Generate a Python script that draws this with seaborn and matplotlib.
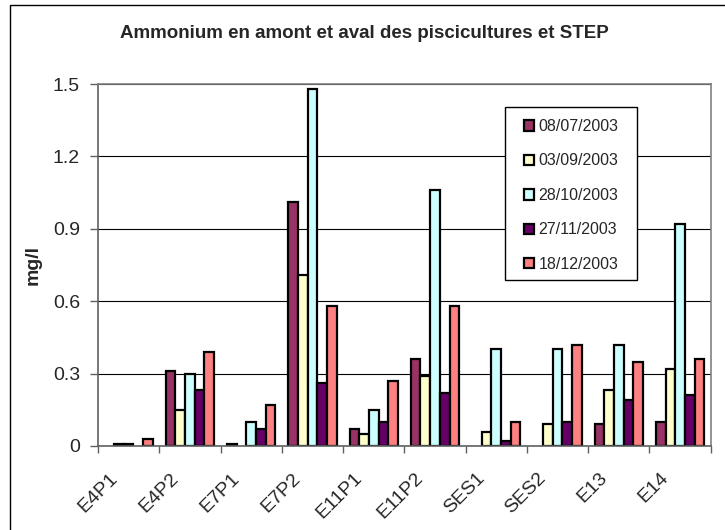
import numpy as np
import pandas as pd
import matplotlib
matplotlib.use("Agg")
import matplotlib.pyplot as plt
import matplotlib.transforms as mtransforms
from matplotlib.patches import Rectangle
import seaborn as sns

# --- data ---
sites = ["E4P1", "E4P2", "E7P1", "E7P2", "E11P1", "E11P2", "SES1", "SES2", "E13", "E14"]
dates = ["08/07/2003", "03/09/2003", "28/10/2003", "27/11/2003", "18/12/2003"]
nan = np.nan
v_0807 = [nan, 0.31, 0.01, 1.01, 0.07, 0.36, nan, nan, 0.09, 0.10]
v_0309 = [0.01, 0.15, nan, 0.71, 0.05, 0.29, 0.06, 0.09, 0.23, 0.32]
v_2810 = [0.01, 0.30, 0.10, 1.48, 0.15, 1.06, 0.40, 0.40, 0.42, 0.92]
v_2711 = [nan, 0.23, 0.07, 0.26, 0.10, 0.22, 0.02, 0.10, 0.19, 0.21]
v_1812 = [0.03, 0.39, 0.17, 0.58, 0.27, 0.58, 0.10, 0.42, 0.35, 0.36]
y_ticks = [0, 0.3, 0.6, 0.9, 1.2, 1.5]
y_ticklabels = ["0", "0.3", "0.6", "0.9", "1.2", "1.5"]

colors = ["#993366", "#FFFFCC", "#CCFFFF", "#660066", "#FF8080"]

series = [v_0807, v_0309, v_2810, v_2711, v_1812]
df = pd.DataFrame({
    "site": sites * len(dates),
    "date": [d for d in dates for _ in sites],
    "value": [v for s in series for v in s],
})

sns.set_style("white")
plt.rcParams["font.family"] = ["Liberation Sans", "DejaVu Sans"]

W, H = 725, 530
fig = plt.figure(figsize=(W / 100, H / 100), dpi=100)
ax = fig.add_axes([98 / W, 1 - 446 / H, (710.7 - 98) / W, (446 - 84) / H])

sns.barplot(data=df, x="site", y="value", hue="date", order=sites, hue_order=dates,
            palette=colors, edgecolor="black", linewidth=1.6, width=0.79, gap=0,
            saturation=1, err_kws={"linewidth": 0}, ax=ax, legend=True)

ax.set_xlim(-0.5, len(sites) - 0.5)
ax.set_ylim(0, 1.5)
ax.set_yticks(y_ticks)
ax.set_yticklabels(y_ticklabels, fontsize=14)
ax.yaxis.grid(True, color="black", linewidth=0.8)
ax.set_axisbelow(True)
ax.set_xlabel("")
ax.set_ylabel("")

# category labels at centres, tick marks on the boundaries
ax.set_xticks(range(len(sites)))
ax.set_xticklabels(sites, rotation=45, ha="right", rotation_mode="anchor", fontsize=14)
ax.set_xticks(np.arange(-0.5, len(sites)), minor=True)
ax.tick_params(axis="x", which="major", length=0, pad=17)
ax.tick_params(axis="x", which="minor", length=5, width=1, color="#606060", direction="out", bottom=True)
ax.tick_params(axis="y", length=6, width=1, color="#606060", direction="out", left=True, pad=7)
shift = mtransforms.ScaledTranslation(-20 / 100, 0, fig.dpi_scale_trans)
for lab in ax.get_xticklabels():
    lab.set_transform(lab.get_transform() + shift)

for side in ["left", "bottom", "top", "right"]:
    ax.spines[side].set_visible(True)
    ax.spines[side].set_color("#808080")
    ax.spines[side].set_linewidth(1.2)
ax.spines["left"].set_color("#606060")
ax.spines["bottom"].set_color("#606060")

# legend with its own square white frame (hides the gridlines behind it)
handles, labels = ax.get_legend_handles_labels()
leg = ax.legend(handles, labels, loc="upper left", bbox_to_anchor=(524 / W, 1 - 119 / H),
                bbox_transform=fig.transFigure, frameon=False, fontsize=11.5,
                handlelength=0.62, handleheight=0.62, handletextpad=0.3,
                labelspacing=1.22, borderpad=0, borderaxespad=0)
leg.set_zorder(6)
ax.add_patch(Rectangle((505 / W, 1 - 280 / H), (637 - 505) / W, (280 - 107) / H,
                       transform=fig.transFigure, facecolor="white", edgecolor="black",
                       linewidth=1, zorder=5, clip_on=False))

# outer chart border (only left and top are inside the picture)
fig.patches.append(Rectangle((10 / W, -0.05), 1.1, 1 - 5 / H + 0.05,
                             transform=fig.transFigure, fill=False, edgecolor="black",
                             linewidth=1))

fig.text(0.502, 1 - 34 / H, "Ammonium en amont et aval des piscicultures et STEP",
         ha="center", va="center", fontsize=13.5, fontweight="bold")
fig.text(33 / W, 1 - 265 / H, "mg/l", ha="center", va="center", rotation=90,
         fontsize=14, fontweight="bold")

fig.savefig("out.png", dpi=100)
